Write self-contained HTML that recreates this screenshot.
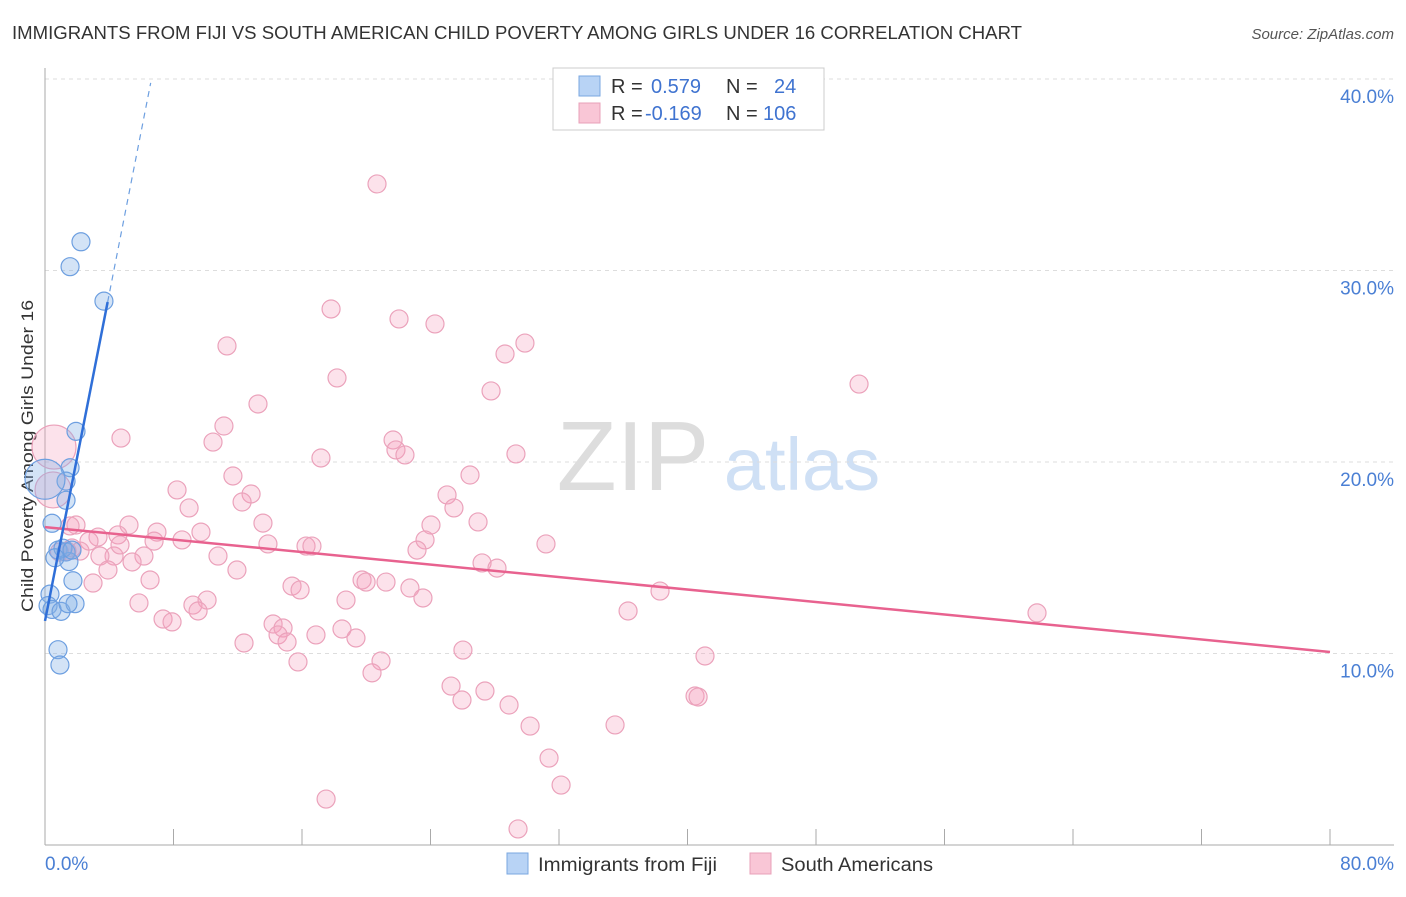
<!DOCTYPE html>
<html><head><meta charset="utf-8"><style>
body{margin:0;background:#fff;font-family:"Liberation Sans",sans-serif;}
svg text{font-family:"Liberation Sans",sans-serif;}
</style></head><body>
<svg id="chart" width="1406" height="892" viewBox="0 0 1406 892" xmlns="http://www.w3.org/2000/svg">
<text x="12" y="39" font-size="18" fill="#333" textLength="1010" lengthAdjust="spacingAndGlyphs">IMMIGRANTS FROM FIJI VS SOUTH AMERICAN CHILD POVERTY AMONG GIRLS UNDER 16 CORRELATION CHART</text>
<text x="1394" y="39" font-size="15" fill="#555" font-style="italic" text-anchor="end">Source: ZipAtlas.com</text>
<text transform="translate(33,456) rotate(-90)" font-size="17" fill="#333" text-anchor="middle" textLength="312" lengthAdjust="spacingAndGlyphs">Child Poverty Among Girls Under 16</text>
<g>
<text x="633" y="490" font-size="98" fill="#ddd" font-family="Liberation Serif" text-anchor="middle">ZIP</text>
<text x="802" y="490" font-size="74" fill="#cfe0f5" text-anchor="middle">atlas</text>
</g>
<g id="grid"></g><g id="axes"></g><g id="marks"></g>
<g>
<rect x="553" y="68" width="271" height="62" fill="#fff" stroke="#ccc"/>
<rect x="579" y="76" width="21" height="20" fill="#b8d3f5" stroke="#7aa7e0"/>
<rect x="579" y="103" width="21" height="20" fill="#f9c6d6" stroke="#e8a0b8"/>
<text x="611" y="93" font-size="20" fill="#333">R =</text><text x="651" y="93" font-size="20" fill="#3f73d0">0.579</text>
<text x="726" y="93" font-size="20" fill="#333">N =</text><text x="774" y="93" font-size="20" fill="#3f73d0">24</text>
<text x="611" y="120" font-size="20" fill="#333">R =</text><text x="645" y="120" font-size="20" fill="#3f73d0">-0.169</text>
<text x="726" y="120" font-size="20" fill="#333">N =</text><text x="763" y="120" font-size="20" fill="#3f73d0">106</text>
</g>
<g>
<rect x="507" y="853" width="21" height="21" fill="#b8d3f5" stroke="#7aa7e0"/>
<text x="538" y="871" font-size="19" fill="#333" textLength="179" lengthAdjust="spacingAndGlyphs">Immigrants from Fiji</text>
<rect x="750" y="853" width="21" height="21" fill="#f9c6d6" stroke="#e8a0b8"/>
<text x="781" y="871" font-size="19" fill="#333" textLength="152" lengthAdjust="spacingAndGlyphs">South Americans</text>
</g>
</svg>
<script>
const yTicks=[10,20,30,40];
const yTickLabels=["10.0%","20.0%","30.0%","40.0%"];
const xTicks=[0,8,16,24,32,40,48,56,64,72,80];
const fijiX=[2.24,1.56,3.67,1.93,1.56,1.31,1.31,0.44,0,0.81,1.31,1.49,1.74,0.31,0.19,0.44,1.0,1.87,1.43,0.81,0.93,1.12,0.62,1.68];
const fijiY=[31.5,30.2,28.4,21.6,19.7,19.0,18.0,16.8,19.1,15.4,15.3,14.8,13.8,13.1,12.5,12.3,12.2,12.6,12.6,10.2,9.4,15.5,15.0,15.4];
const fijiR=[9,9,9,9,9,9,9,9,20,9,9,9,9,9,9,9,9,9,9,9,9,9,9,9];
const saX=[20.67,17.81,22.04,24.28,11.33,29.88,28.64,18.18,27.77,50.68,13.26,11.14,4.73,10.46,21.67,21.85,22.41,29.32,17.18,11.70,26.46,8.22,12.83,25.03,12.27,25.46,8.97,13.57,24.03,26.96,5.23,6.97,1.93,9.71,4.54,3.30,8.53,6.79,23.66,2.74,31.19,13.88,16.25,16.62,1.68,1.37,2.18,4.30,3.42,10.77,6.16,5.42,23.16,27.21,28.14,3.92,11.95,2.99,19.74,19.99,21.23,15.38,15.88,22.72,23.53,18.74,5.85,10.09,9.21,9.53,36.30,38.29,61.76,7.35,7.91,14.20,14.82,14.51,18.49,16.87,15.07,19.36,12.39,26.02,20.92,15.75,41.09,20.36,25.28,27.39,25.96,28.89,40.47,40.66,30.20,35.49,31.38,32.13,17.50,29.45,0.56,0.50,1.56,4.67,6.54,0.9];
const saY=[34.52,27.99,27.47,27.21,26.06,26.21,25.64,24.39,23.71,24.07,23.03,21.88,21.25,21.04,21.15,20.63,20.37,20.42,20.21,19.27,19.32,18.54,18.33,18.28,17.91,17.60,17.60,16.81,16.71,16.87,16.71,16.34,16.71,16.34,16.19,16.08,15.93,15.87,15.93,15.87,15.72,15.72,15.61,15.61,15.51,15.35,15.35,15.09,15.09,15.09,15.09,14.78,15.40,14.73,14.46,14.36,14.36,13.68,13.84,13.73,13.73,13.52,13.32,13.42,12.90,12.79,12.64,12.79,12.53,12.22,12.22,13.26,12.12,11.80,11.65,11.54,11.33,10.97,11.28,10.97,10.60,10.81,10.55,10.18,9.61,9.56,9.87,8.99,8.30,8.04,7.57,7.31,7.78,7.73,6.21,6.27,4.54,3.13,2.40,0.84,20.78,18.54,16.66,15.67,13.84,15.3];
const saR=saX.map((v,i)=>i===100?22:(i===101?18:9));
const fijiLine=[11.7,4.27]; // intercept, slope
const saLine=[16.6,-0.0815];
const NS="http://www.w3.org/2000/svg";
const xs=v=>45+v/80*1285, ys=v=>845-v*19.15;
function mk(tag,attrs,parent){const e=document.createElementNS(NS,tag);for(const k in attrs)e.setAttribute(k,attrs[k]);parent.appendChild(e);return e;}
const grid=document.getElementById('grid'),axes=document.getElementById('axes'),marks=document.getElementById('marks');
yTicks.forEach((t,i)=>{
 const l=mk('line',{x1:45,x2:1394,y1:ys(t),y2:ys(t),stroke:'#ddd','stroke-dasharray':'4,4'},grid);
 
 
 const tx=mk('text',{x:1394,y:ys(t)+24,'font-size':19,fill:'#4a7fd4','text-anchor':'end'},axes);tx.textContent=yTickLabels[i];
 
 
});
mk('line',{x1:45,x2:45,y1:68,y2:845,stroke:'#aaa'},axes);
mk('line',{x1:45,x2:1394,y1:845,y2:845,stroke:'#aaa'},axes);
xTicks.forEach(t=>{const l=mk('line',{x1:xs(t),x2:xs(t),y1:829,y2:845,stroke:'#aaa'},axes);
 
 });
let a=mk('text',{x:45,y:870,'font-size':19,fill:'#4a7fd4'},axes);a.textContent='0.0%';


a=mk('text',{x:1394,y:870,'font-size':19,fill:'#4a7fd4','text-anchor':'end'},axes);a.textContent='80.0%';


saX.forEach((x,i)=>{const c=mk('circle',{cx:xs(x),cy:ys(saY[i]),r:saR[i],fill:'rgba(244,160,188,0.3)',stroke:'#eba2bb','stroke-width':1.2},marks);
 
 });
fijiX.forEach((x,i)=>{const c=mk('circle',{cx:xs(x),cy:ys(fijiY[i]),r:fijiR[i],fill:'rgba(130,175,230,0.35)',stroke:'#6d9fe0','stroke-width':1.2},marks);
 
 });
let tl=mk('line',{x1:xs(0),y1:ys(saLine[0]),x2:xs(80),y2:ys(saLine[0]+saLine[1]*80),stroke:'#e8628f','stroke-width':2.5},marks);


const xEnd=3.9, xDash=(39.8-fijiLine[0])/fijiLine[1];
tl=mk('line',{x1:xs(0),y1:ys(fijiLine[0]),x2:xs(xEnd),y2:ys(fijiLine[0]+fijiLine[1]*xEnd),stroke:'#2f6fd8','stroke-width':2.5},marks);


tl=mk('line',{x1:xs(xEnd),y1:ys(fijiLine[0]+fijiLine[1]*xEnd),x2:xs(xDash),y2:ys(39.8),stroke:'#6d9fe0','stroke-width':1.2,'stroke-dasharray':'6,5'},marks);


</script>
</body></html>
